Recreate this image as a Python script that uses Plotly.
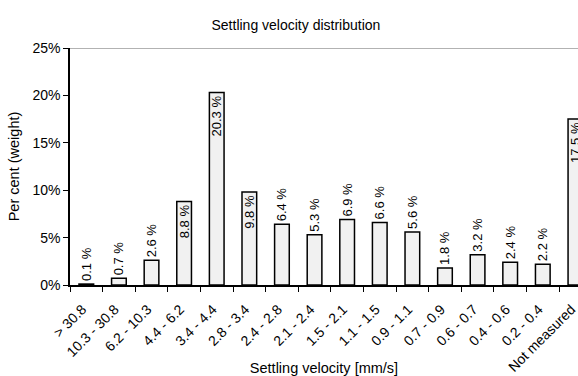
import plotly.graph_objects as go

categories = ["> 30.8", "10.3 - 30.8", "6.2 - 10.3", "4.4 - 6.2", "3.4 - 4.4", "2.8 - 3.4",
              "2.4 - 2.8", "2.1 - 2.4", "1.5 - 2.1", "1.1 - 1.5", "0.9 - 1.1", "0.7 - 0.9",
              "0.6 - 0.7", "0.4 - 0.6", "0.2 - 0.4", "Not measured"]
values = [0.1, 0.7, 2.6, 8.8, 20.3, 9.8, 6.4, 5.3, 6.9, 6.6, 5.6, 1.8, 3.2, 2.4, 2.2, 17.5]
inside_labels = {"4.4 - 6.2", "3.4 - 4.4", "2.8 - 3.4", "Not measured"}
y_ticks = [0, 5, 10, 15, 20, 25]
y_ticktext = ["0%", "5%", "10%", "15%", "20%", "25%"]

FONT = "Arial, Liberation Sans, sans-serif"

texts = [f"{v:.1f} %" for v in values]
positions = ["inside" if c in inside_labels else "outside" for c in categories]

fig = go.Figure(go.Bar(
    x=categories, y=values, width=0.45,
    marker=dict(color="#f1f1f1", line=dict(color="black", width=1.5)),
    text=texts, textposition=positions, textangle=-90,
    insidetextanchor="end", constraintext="none",
    textfont=dict(family=FONT, size=13, color="black"),
))

fig.update_layout(
    width=578, height=376,
    margin=dict(l=70, r=0, t=48, b=91, autoexpand=False),
    paper_bgcolor="white", plot_bgcolor="white",
    showlegend=False,
    font=dict(family=FONT, color="black"),
    title=dict(text="Settling velocity distribution", x=0.512, xanchor="center",
               y=0.932, yanchor="middle", font=dict(size=14, family=FONT, color="black")),
    xaxis=dict(
        range=[-0.5, 15.08], tickangle=-45, tickson="boundaries", automargin=False,
        ticks="outside", ticklen=5, tickcolor="black",
        ticklabelstandoff=9, ticklabelshift=-4,
        showline=True, linecolor="black", linewidth=1.5,
        showgrid=False, tickfont=dict(size=14, family=FONT, color="black"),
        title=dict(text="Settling velocity [mm/s]", standoff=0,
                   font=dict(size=14.5, family=FONT, color="black")),
    ),
    yaxis=dict(
        range=[0, 25], tickmode="array", tickvals=y_ticks, ticktext=y_ticktext,
        automargin=False,
        ticks="outside", ticklen=5, tickcolor="black",
        showline=True, linecolor="black", linewidth=1.5,
        showgrid=False, zeroline=False,
        tickfont=dict(size=14, family=FONT, color="black"),
        title=dict(text="Per cent (weight)", standoff=9,
                   font=dict(size=14.5, family=FONT, color="black")),
    ),
    shapes=[dict(type="line", xref="paper", yref="y", x0=0, x1=1, y0=25, y1=25,
                 line=dict(color="#666666", width=1))],
)

fig.write_html("out.html")
